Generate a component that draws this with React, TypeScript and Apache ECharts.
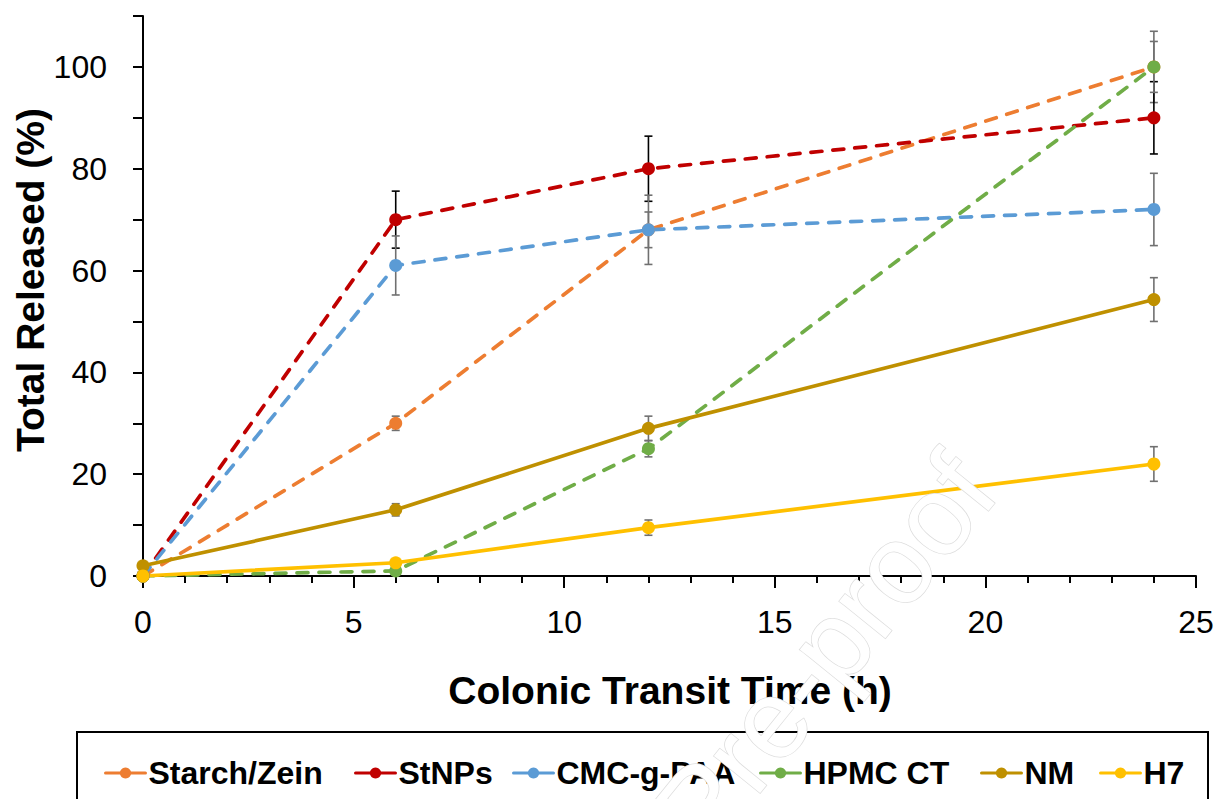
import React, { useEffect, useRef } from "react";
import * as echarts from "echarts";

const times = [0, 6, 12, 24];
const seriesNames = ["Starch/Zein", "StNPs", "CMC-g-PAA", "HPMC CT", "NM", "H7"];
const starchZein = [0, 30, 68, 100];
const starchZeinErr = [0, 1.4, 3.5, 7];
const stNPs = [0, 70, 80, 90];
const stNPsErr = [0, 5.6, 6.4, 7.1];
const cmcGPaa = [0, 61, 68, 72];
const cmcGPaaErr = [0, 5.8, 6.8, 7.1];
const hpmcCt = [0, 1, 25, 100];
const hpmcCtErr = [0, 0.5, 1.6, 5];
const nm = [2, 13, 29, 54.3];
const nmErr = [0, 1.2, 2.4, 4.3];
const h7 = [0, 2.6, 9.5, 22];
const h7Err = [0, 0.5, 1.5, 3.4];
const xTicks = [0, 5, 10, 15, 20, 25];
const yTicks = [0, 20, 40, 60, 80, 100];

const FONT = "'Liberation Sans', Arial, sans-serif";

export default function App() {
  const ref = useRef<HTMLDivElement>(null);
  useEffect(() => {
    if (!ref.current) return;
    const chart = echarts.init(ref.current, null, { renderer: "svg" });
    const values = [starchZein, stNPs, cmcGPaa, hpmcCt, nm, h7];
    const errs = [starchZeinErr, stNPsErr, cmcGPaaErr, hpmcCtErr, nmErr, h7Err];
    const colors = ["#ED7D31", "#C00000", "#5B9BD5", "#70AD47", "#BF9000", "#FFC000"];
    const dashed = [true, true, true, true, false, false];
    const errColors = ["#707070", "#000000", "#707070", "#707070", "#707070", "#707070"];
    const legendLeft = [104, 354, 512, 759, 980, 1099];

    const lineSeries: any[] = values.map((vals, i) => ({
      type: "line",
      name: seriesNames[i],
      data: times.map((t, j) => [t, vals[j]]),
      symbol: "circle",
      symbolSize: 13,
      z: 3,
      itemStyle: { color: colors[i] },
      lineStyle: {
        color: colors[i],
        width: 3.7,
        type: dashed[i] ? [11, 11] : "solid",
        cap: "round",
      },
    }));

    const errSeries: any[] = values.map((vals, i) => ({
      type: "custom",
      name: seriesNames[i] + " error",
      z: 2,
      silent: true,
      data: times
        .map((t, j) => [t, vals[j] - errs[i][j], vals[j] + errs[i][j], errs[i][j]])
        .filter((d) => d[3] > 0),
      encode: { x: 0, y: [1, 2] },
      renderItem: (params: any, api: any) => {
        const x = api.value(0);
        const lo = api.coord([x, api.value(1)]);
        const hi = api.coord([x, api.value(2)]);
        const hw = 4;
        const style = { stroke: errColors[i], lineWidth: 1.6 };
        return {
          type: "group",
          children: [
            { type: "line", shape: { x1: lo[0], y1: lo[1], x2: hi[0], y2: hi[1] }, style },
            { type: "line", shape: { x1: lo[0] - hw, y1: lo[1], x2: lo[0] + hw, y2: lo[1] }, style },
            { type: "line", shape: { x1: hi[0] - hw, y1: hi[1], x2: hi[0] + hw, y2: hi[1] }, style },
          ],
        };
      },
    }));

    const legends = seriesNames.map((n, i) => ({
      data: [n],
      left: legendLeft[i],
      top: 757,
      padding: 0,
      orient: "horizontal",
      selectedMode: false,
      itemWidth: 40,
      itemHeight: 14,
      lineStyle: { type: "solid", width: 3 },
      textStyle: { fontSize: 32, fontWeight: "bold", fontFamily: FONT, color: "#000", padding: [0, 0, 0, -2] },
    }));

    chart.setOption({
      animation: false,
      backgroundColor: "#ffffff",
      grid: { left: 143, top: 16, right: 24, bottom: 223 },
      legend: legends,
      xAxis: {
        type: "value",
        min: 0,
        max: 25,
        interval: 5,
        axisLine: { show: true, lineStyle: { color: "#000", width: 2 } },
        axisTick: { show: true, length: 12, lineStyle: { color: "#000", width: 2 } },
        minorTick: { show: true, splitNumber: 5, length: 7, lineStyle: { color: "#000", width: 2 } },
        splitLine: { show: false },
        axisLabel: {
          fontSize: 32,
          fontFamily: FONT,
          color: "#000",
          margin: 30,
          formatter: (v: number) => (xTicks.includes(v) ? String(v) : ""),
        },
      },
      yAxis: {
        type: "value",
        min: 0,
        max: 110,
        interval: 10,
        axisLine: { show: true, lineStyle: { color: "#000", width: 2 } },
        axisTick: { show: true, length: 10, lineStyle: { color: "#000", width: 2 } },
        splitLine: { show: false },
        axisLabel: {
          fontSize: 32,
          fontFamily: FONT,
          color: "#000",
          margin: 36,
          formatter: (v: number) => (yTicks.includes(v) ? String(v) : ""),
        },
      },
      graphic: [
        {
          type: "rect",
          shape: { x: 77, y: 732, width: 1131, height: 100 },
          style: { fill: "none", stroke: "#000", lineWidth: 2 },
          silent: true,
        },
        {
          type: "text",
          x: 670,
          y: 690,
          style: {
            text: "Colonic Transit Time (h)",
            fontSize: 39,
            fontWeight: "bold",
            fontFamily: FONT,
            fill: "#000",
            textAlign: "center",
            textVerticalAlign: "middle",
          },
        },
        {
          type: "text",
          x: 30,
          y: 280,
          rotation: Math.PI / 2,
          style: {
            text: "Total Released (%)",
            fontSize: 39,
            fontWeight: "bold",
            fontFamily: FONT,
            fill: "#000",
            textAlign: "center",
            textVerticalAlign: "middle",
          },
        },
        {
          type: "text",
          x: 972,
          y: 470,
          rotation: (51 * Math.PI) / 180,
          z: 100,
          silent: true,
          style: {
            text: "Journal Pre-proof",
            fontSize: 112,
            fontFamily: FONT,
            fill: "#ffffff",
            stroke: "#dddddd",
            lineWidth: 1.5,
            textAlign: "right",
            textVerticalAlign: "middle",
          },
        },
      ],
      series: [...errSeries, ...lineSeries],
    });
    return () => chart.dispose();
  }, []);
  return (
    <div
      ref={ref}
      style={{ position: "fixed", left: 0, top: 0, width: 1220, height: 799, background: "#fff" }}
    />
  );
}
